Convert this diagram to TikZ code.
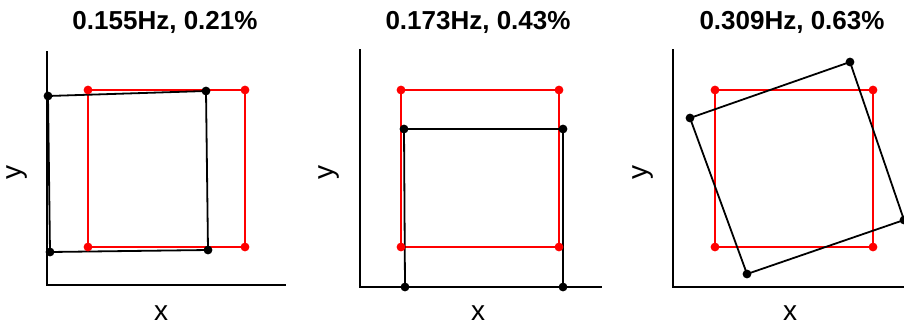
\documentclass[tikz,border=0pt]{standalone}
\usepackage{fontspec}
\setmainfont{Liberation Sans}
\begin{document}
\begin{tikzpicture}[x=1pt,y=-1pt,
  axisline/.style={line width=2pt,black},
  refsq/.style={line width=2pt,red},
  defsq/.style={line width=1.8pt,black},
  reddot/.style={fill=red},
  blackdot/.style={fill=black},
  ttl/.style={font=\fontsize{26}{30}\selectfont\bfseries,inner sep=0pt},
  axlbl/.style={font=\fontsize{28}{32}\selectfont,inner sep=0pt}]
\useasboundingbox[fill=white] (0,0) rectangle (904,330);
% ---------- panel 1 ----------
\coordinate (o1) at (47,285);
\coordinate (ya1) at (47,51);
\coordinate (xa1) at (286,285);
\draw[axisline] (ya1) -- (o1) -- (xa1);
\coordinate (r1a) at (88,90); \coordinate (r1b) at (245,90);
\coordinate (r1c) at (245,247); \coordinate (r1d) at (88,247);
\draw[refsq] (r1a) -- (r1b) -- (r1c) -- (r1d) -- cycle;
\coordinate (b1a) at (48,96); \coordinate (b1b) at (206,91);
\coordinate (b1c) at (208,250); \coordinate (b1d) at (50,252);
\draw[defsq] (b1a) -- (b1b) -- (b1c) -- (b1d) -- cycle;
\foreach \p in {r1a,r1b,r1c,r1d} \fill[reddot] (\p) circle (4.4);
\foreach \p in {b1a,b1b,b1c,b1d} \fill[blackdot] (\p) circle (4.4);
\node[ttl] (t1) at (165,22) {0.155Hz, 0.21\%};
\node[axlbl,rotate=90] (yl1) at (17,172) {y};
\node[axlbl] (xl1) at (161,313) {x};
% ---------- panel 2 ----------
\coordinate (o2) at (360,287);
\coordinate (ya2) at (360,49);
\coordinate (xa2) at (602,287);
\draw[axisline] (ya2) -- (o2) -- (xa2);
\coordinate (r2a) at (401,90); \coordinate (r2b) at (559,90);
\coordinate (r2c) at (559,247); \coordinate (r2d) at (401,247);
\draw[refsq] (r2a) -- (r2b) -- (r2c) -- (r2d) -- cycle;
\coordinate (b2a) at (404,129); \coordinate (b2b) at (563,129);
\coordinate (b2c) at (563,287); \coordinate (b2d) at (405,287);
\draw[defsq] (b2a) -- (b2b) -- (b2c) -- (b2d) -- cycle;
\foreach \p in {r2a,r2b,r2c,r2d} \fill[reddot] (\p) circle (4.4);
\foreach \p in {b2a,b2b,b2c,b2d} \fill[blackdot] (\p) circle (4.4);
\node[ttl] (t2) at (478,22) {0.173Hz, 0.43\%};
\node[axlbl,rotate=90] (yl2) at (329,172) {y};
\node[axlbl] (xl2) at (478,313) {x};
% ---------- panel 3 ----------
\coordinate (o3) at (673,287);
\coordinate (ya3) at (673,49);
\coordinate (xa3) at (910,287);
\draw[axisline] (ya3) -- (o3) -- (xa3);
\coordinate (r3a) at (715,90); \coordinate (r3b) at (873,90);
\coordinate (r3c) at (873,247); \coordinate (r3d) at (715,247);
\draw[refsq] (r3a) -- (r3b) -- (r3c) -- (r3d) -- cycle;
\coordinate (b3a) at (690,118); \coordinate (b3b) at (850,62);
\coordinate (b3c) at (904,220); \coordinate (b3d) at (747,274);
\draw[defsq] (b3a) -- (b3b) -- (b3c) -- (b3d) -- cycle;
\foreach \p in {r3a,r3b,r3c,r3d} \fill[reddot] (\p) circle (4.4);
\foreach \p in {b3a,b3b,b3c,b3d} \fill[blackdot] (\p) circle (4.4);
\node[ttl] (t3) at (792,22) {0.309Hz, 0.63\%};
\node[axlbl,rotate=90] (yl3) at (643,172) {y};
\node[axlbl] (xl3) at (790,313) {x};
\end{tikzpicture}
\end{document}
